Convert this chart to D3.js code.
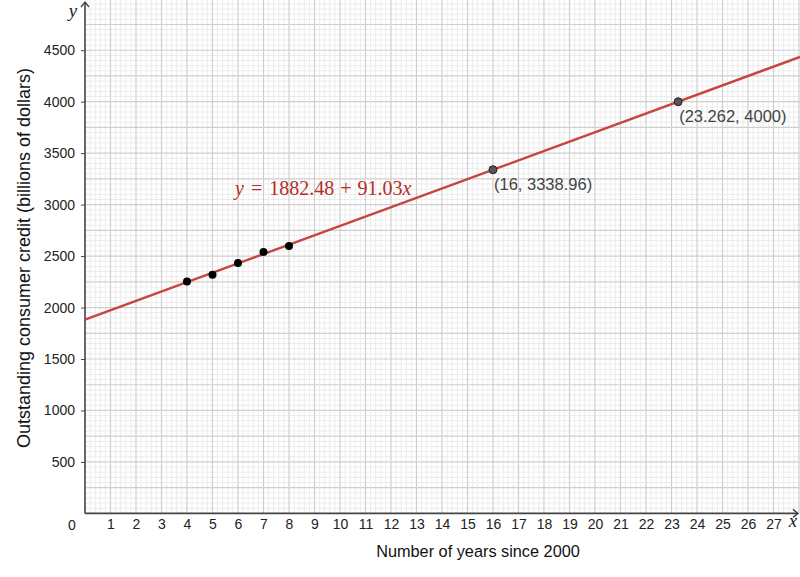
<!DOCTYPE html>
<html><head><meta charset="utf-8">
<script src="https://cdn.jsdelivr.net/npm/d3@7"></script>
<style>body{margin:0;background:#fff}svg{display:block}</style>
</head><body>
<script>
// Data
const years = [4, 5, 6, 7, 8];
const credit = [2254, 2318, 2433, 2540, 2598];
const regression = [1882.48, 91.03]; // intercept, slope
const labeledX = [16, 23.262];
const labeledY = [3338.96, 4000];
const labeledText = ["(16, 3338.96)", "(23.262, 4000)"];
const xTicks = d3.range(1, 28);
const yTicks = d3.range(500, 5000, 500);

const W = 800, H = 577;
const x0 = 85, y0 = 513.4;
const x = d3.scaleLinear().domain([0, 28.04]).range([x0, 800]);
const y = d3.scaleLinear().domain([0, 4988]).range([y0, 0]);

const svg = d3.select("body").append("svg").attr("width", W).attr("height", H);
const red = "#c74440";
const sans = "Arial, 'Liberation Sans', sans-serif";
const serif = "'Liberation Serif', 'Times New Roman', serif";

// minor grid
const g = svg.append("g");
g.selectAll(".mvx").data(d3.range(0.2, 28.04, 0.2).filter(v => Math.abs(v - Math.round(v)) > 1e-6))
  .join("line").attr("x1", d => x(d)).attr("x2", d => x(d)).attr("y1", 0).attr("y2", y0)
  .attr("stroke", "#ececec").attr("stroke-width", 1);
g.selectAll(".mhy").data(d3.range(50, 4988, 50).filter(v => v % 250 !== 0))
  .join("line").attr("x1", x0).attr("x2", W).attr("y1", d => y(d)).attr("y2", d => y(d))
  .attr("stroke", "#ececec").attr("stroke-width", 1);
// major grid
g.selectAll(".Mvx").data(d3.range(1, 29)).join("line")
  .attr("x1", d => x(d)).attr("x2", d => x(d)).attr("y1", 0).attr("y2", y0)
  .attr("stroke", "#cfcfcf").attr("stroke-width", 1.2);
g.selectAll(".Mhy").data(d3.range(250, 4988, 250)).join("line")
  .attr("x1", x0).attr("x2", W).attr("y1", d => y(d)).attr("y2", d => y(d))
  .attr("stroke", "#cfcfcf").attr("stroke-width", 1.2);

// axes
const axc = "#444";
svg.append("line").attr("x1", x0).attr("x2", 798).attr("y1", y0).attr("y2", y0).attr("stroke", axc).attr("stroke-width", 1.6);
svg.append("line").attr("x1", x0).attr("x2", x0).attr("y1", y0).attr("y2", 2).attr("stroke", axc).attr("stroke-width", 1.6);
svg.append("path").attr("d", `M${x0-4},7 L${x0},2 L${x0+4},7`).attr("fill", "none").attr("stroke", axc).attr("stroke-width", 1.4);
svg.append("path").attr("d", `M793,${y0-4} L798,${y0} L793,${y0+4}`).attr("fill", "none").attr("stroke", axc).attr("stroke-width", 1.4);

// y ticks
const yAxis = d3.axisLeft(y).tickValues(yTicks).tickSize(4).tickPadding(6).tickFormat(d3.format("d"));
const ya = svg.append("g").attr("transform", `translate(${x0},0)`).call(yAxis);
ya.select(".domain").remove();
ya.selectAll("line").attr("stroke", axc);
ya.selectAll("text").attr("font-family", sans).attr("font-size", 14).attr("fill", "#222");

// x ticks
const xAxis = d3.axisBottom(x).tickValues(xTicks).tickSize(0).tickPadding(6).tickFormat(d3.format("d"));
const xa = svg.append("g").attr("transform", `translate(0,${y0})`).call(xAxis);
xa.select(".domain").remove();
xa.selectAll("text").attr("font-family", sans).attr("font-size", 14).attr("fill", "#222");
svg.append("text").attr("x", 72).attr("y", 530).attr("text-anchor", "middle")
  .attr("font-family", sans).attr("font-size", 14).attr("fill", "#222").text("0");

// axis letters
svg.append("text").attr("x", 73).attr("y", 17).attr("text-anchor", "middle")
  .attr("font-family", serif).attr("font-style", "italic").attr("font-size", 19).attr("fill", "#222").text("y");
svg.append("text").attr("x", 793).attr("y", 527).attr("text-anchor", "middle")
  .attr("font-family", serif).attr("font-style", "italic").attr("font-size", 19).attr("fill", "#222").text("x");

// regression line
const xr = x.domain();
svg.append("line")
  .attr("x1", x(xr[0])).attr("y1", y(regression[0] + regression[1] * xr[0]))
  .attr("x2", x(xr[1])).attr("y2", y(regression[0] + regression[1] * xr[1]))
  .attr("stroke", red).attr("stroke-width", 2.4);

// data points
svg.selectAll(".pt").data(years.map((d, i) => [d, credit[i]])).join("circle")
  .attr("cx", d => x(d[0])).attr("cy", d => y(d[1])).attr("r", 4).attr("fill", "#000");

// labeled points
labeledX.forEach((lx, i) => {
  svg.append("circle").attr("cx", x(lx)).attr("cy", y(labeledY[i])).attr("r", 4)
    .attr("fill", "#555").attr("stroke", "#222").attr("stroke-width", 1);
  svg.append("text").attr("x", x(lx) + 1).attr("y", y(labeledY[i]) + 20)
    .attr("font-family", sans).attr("font-size", 16.5).attr("fill", "#444")
    .text(labeledText[i]);
});

// equation label
const eq = svg.append("text").attr("x", 235).attr("y", 195)
  .attr("font-family", serif).attr("font-size", 20).attr("fill", "#b22d2a");
eq.append("tspan").attr("font-style", "italic").text("y");
eq.append("tspan").attr("dx", 7).text("=");
eq.append("tspan").attr("dx", 7).text(String(regression[0]));
eq.append("tspan").attr("dx", 6).text("+");
eq.append("tspan").attr("dx", 6).text(String(regression[1]));
eq.append("tspan").attr("font-style", "italic").text("x");

// axis titles
svg.append("text").attr("x", 478).attr("y", 557).attr("text-anchor", "middle")
  .attr("font-family", sans).attr("font-size", 16.3).attr("fill", "#111")
  .text("Number of years since 2000");
svg.append("text").attr("transform", "translate(30,258) rotate(-90)").attr("text-anchor", "middle")
  .attr("font-family", sans).attr("font-size", 18).attr("fill", "#111")
  .text("Outstanding consumer credit (billions of dollars)");
</script>
</body></html>
